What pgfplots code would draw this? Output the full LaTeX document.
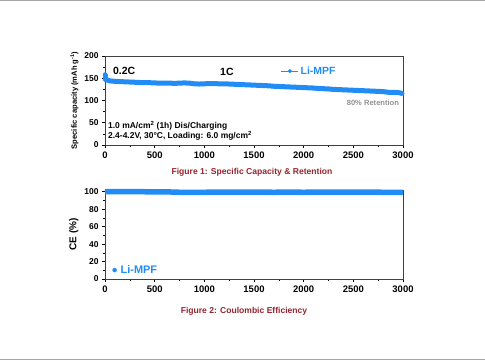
\documentclass[border=0pt]{standalone}
\usepackage{fontspec}
\setmainfont{Liberation Sans}
\usepackage{pgfplots}
\pgfplotsset{compat=1.18}
\definecolor{ser}{RGB}{33,140,245}
\definecolor{cap}{RGB}{150,35,45}
\begin{document}
\begin{tikzpicture}[x=1bp,y=1bp]
\path[use as bounding box] (0,0) rectangle (485,360);
\fill[white] (0,0) rectangle (485,360);
\draw[gray!70,line width=1.2bp] (0,359.4) -- (485,359.4);
\draw[gray!70,line width=1.2bp] (0,0.6) -- (485,0.6);
\pgfplotsset{
  every axis/.style={font=\bfseries\fontsize{8}{9}\selectfont},
  myax/.style={scale only axis, width=298bp, height=89bp,
    xmin=0, xmax=3000, xtick={0,500,...,3000}, minor x tick num=1,
    tick align=outside, xtick pos=bottom, ytick pos=left,
    tick style={black, line width=0.6pt}, major tick length=3bp, minor tick length=2bp,
    axis line style={black!75, line width=0.6pt},
    xticklabel style={font=\bfseries\fontsize{9.5}{10}\selectfont},
    yticklabel style={font=\bfseries\fontsize{8.5}{9}\selectfont},
    /pgf/number format/assume math mode=true,
    /pgf/number format/set thousands separator={},
    clip=false}
}
\begin{axis}[myax, at={(105bp,215bp)}, anchor=south west,
  ymin=0, ymax=200, ytick={0,50,...,200}, minor y tick num=1,
  ylabel={Specific capacity (mAh g\textsuperscript{-1})},
  ylabel style={font=\bfseries\fontsize{7.6}{8}\selectfont, at={(ticklabel cs:0.5)}, yshift=-1bp},
  legend style={at={(0.59,0.83)}, anchor=west, draw=none, fill=none,
    font=\bfseries\fontsize{10.5}{11}\selectfont, text=ser, inner sep=0pt},
  legend cell align=left]
\addlegendimage{ser, line width=0.6pt, mark=*, mark size=1.7pt}
\addlegendentry{Li-MPF}
\addplot[ser, line width=5bp, line join=round, line cap=round] coordinates {
(5,147) (50,144) (100,143) (150,142.5) (200,142) (250,141.5) (300,141) (350,140.5)
(400,140) (450,140) (500,139.5) (550,139) (600,139) (650,139) (700,138.5) (750,139)
(800,139.5) (850,139) (900,137.5) (950,137) (1000,137.5) (1050,138) (1100,138)
(1150,137.5) (1200,137.5) (1250,137) (1300,136.5) (1350,136) (1400,135.5) (1450,135)
(1500,134.5) (1550,134) (1600,133.5) (1650,133) (1700,132) (1750,131.5) (1800,131)
(1850,130.5) (1900,130) (1950,129.5) (2000,129) (2050,128.5) (2100,128) (2150,127)
(2200,126.5) (2250,126) (2300,125) (2350,124.5) (2400,124) (2450,123.5) (2500,123)
(2550,122.5) (2600,122) (2650,121.5) (2700,121) (2750,120.5) (2800,120) (2850,118.5)
(2900,118) (2950,118) (2990,116)};
\addplot[ser, only marks, mark=*, mark size=2.2pt] coordinates {(2,158) (4,156) (6,152) (8,149)};
\node[anchor=west, font=\bfseries\fontsize{10.5}{11}\selectfont, inner sep=0pt] at (axis cs:80,167) {0.2C};
\node[anchor=west, font=\bfseries\fontsize{10.5}{11}\selectfont, inner sep=0pt] at (axis cs:1158,165) {1C};
\node[anchor=east, text=gray!85, font=\bfseries\fontsize{7.6}{8}\selectfont] at (axis cs:2995,94) {80\% Retention};
\node[anchor=west, font=\bfseries\fontsize{8.5}{9}\selectfont, inner sep=0pt] at (axis cs:30,43) {1.0 mA/cm\textsuperscript{2} (1h) Dis/Charging};
\node[anchor=west, font=\bfseries\fontsize{8.5}{9}\selectfont, inner sep=0pt] at (axis cs:30,20) {2.4-4.2V, 30°C, Loading: 6.0 mg/cm\textsuperscript{2}};
\end{axis}
\node[text=cap, font=\bfseries\fontsize{8.6}{9}\selectfont] at (252,188) {Figure 1: Specific Capacity \& Retention};
\begin{axis}[myax, at={(105bp,81bp)}, anchor=south west,
  ymin=0, ymax=102, ytick={0,20,...,100}, minor y tick num=1,
  ylabel={CE (\%)},
  ylabel style={font=\bfseries\fontsize{10}{11}\selectfont, at={(ticklabel cs:0.5)}, yshift=-1bp},
  legend style={at={(0.025,0.1)}, anchor=west, draw=none, fill=none,
    font=\bfseries\fontsize{11}{12}\selectfont, text=ser, inner sep=0pt,
    nodes={inner sep=4pt}},
  legend cell align=left]
\addlegendimage{ser, only marks, mark=*, mark size=2pt}
\addlegendentry{Li-MPF}
\addplot[ser, line width=5.5bp, line join=round] coordinates {
(0,100) (100,100.2) (200,100) (300,100.1) (400,100) (500,99.8) (600,99.9) (700,99.6)
(800,99.2) (900,99.3) (1000,99.4) (1100,99.5) (1200,99.6) (1300,99.5) (1400,99.5)
(1500,99.6) (1600,99.5) (1700,99.4) (1800,99.5) (1900,99.5) (2000,99.4) (2100,99.5)
(2200,99.6) (2300,99.5) (2400,99.5) (2500,99.6) (2600,99.5) (2700,99.5) (2800,99.4)
(2900,99.3) (3000,99.3)};
\end{axis}
\node[text=cap, font=\bfseries\fontsize{8.6}{9}\selectfont] at (244,49) {Figure 2: Coulombic Efficiency};
\end{tikzpicture}
\end{document}
